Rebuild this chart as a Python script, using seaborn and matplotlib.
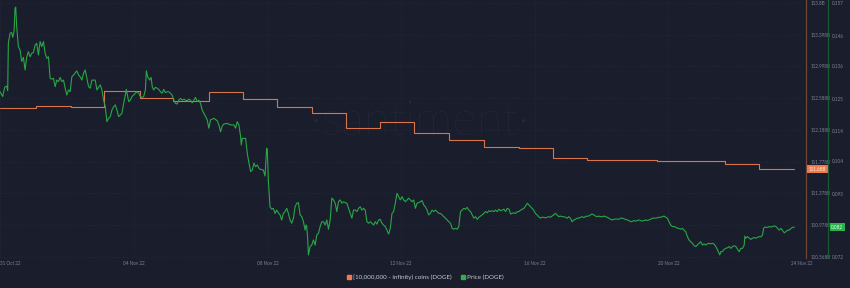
import pandas as pd
import matplotlib
matplotlib.use("Agg")
import matplotlib.pyplot as plt
from matplotlib.lines import Line2D
import seaborn as sns

# ---------------- data ----------------
start_date = "2022-10-31"

# DOGE price, days after 31 Oct 2022 00:00
price_days = [
    0.00, 0.08, 0.14, 0.20, 0.23, 0.25, 0.30, 0.35, 0.38, 0.42, 0.45, 0.47, 0.50, 0.55, 0.60,
    0.65, 0.70, 0.75, 0.80, 0.85, 0.90, 0.95, 1.00, 1.05, 1.10, 1.15, 1.20, 1.25, 1.30, 1.35,
    1.40, 1.45, 1.50, 1.55, 1.60, 1.65, 1.70, 1.75, 1.80, 1.85, 1.90, 1.95, 2.00, 2.05, 2.10,
    2.15, 2.20, 2.30, 2.35, 2.40, 2.45, 2.50, 2.55, 2.60, 2.65, 2.70, 2.75, 2.85, 2.90, 2.95,
    3.00, 3.05, 3.10, 3.15, 3.20, 3.25, 3.30, 3.35, 3.40, 3.45, 3.50, 3.55, 3.60, 3.65, 3.70,
    3.75, 3.78, 3.82, 3.85, 3.90, 3.95, 4.00, 4.05, 4.10, 4.15, 4.20, 4.25, 4.30, 4.35, 4.38,
    4.42, 4.48, 4.52, 4.56, 4.60, 4.65, 4.70, 4.75, 4.80, 4.85, 4.90, 4.95, 5.00, 5.05, 5.10,
    5.15, 5.20, 5.25, 5.30, 5.35, 5.40, 5.45, 5.50, 5.55, 5.60, 5.65, 5.70, 5.75, 5.80, 5.85,
    5.90, 5.95, 6.00, 6.05, 6.10, 6.15, 6.20, 6.25, 6.30, 6.40, 6.50, 6.55, 6.60, 6.65, 6.70,
    6.80, 6.90, 7.00, 7.05, 7.10, 7.15, 7.20, 7.22, 7.25, 7.35, 7.40, 7.45, 7.50, 7.55, 7.60,
    7.65, 7.70, 7.75,
    7.78, 7.88, 7.93, 7.98, 8.00, 8.03,
    8.08, 8.13, 8.18, 8.23, 8.28, 8.33, 8.38, 8.43, 8.48, 8.53, 8.58, 8.63, 8.68, 8.73, 8.78,
    8.83, 8.88, 8.93, 8.98, 9.03, 9.08, 9.13,
    9.16, 9.18, 9.21, 9.23,
    9.28, 9.33, 9.38, 9.43, 9.48, 9.53, 9.58, 9.63, 9.68, 9.73, 9.78, 9.83, 9.88, 9.93, 9.98,
    10.03, 10.08, 10.13, 10.18, 10.23, 10.28, 10.33, 10.38, 10.43, 10.48, 10.53, 10.58, 10.63,
    10.68, 10.73, 10.78, 10.83, 10.88, 10.93, 10.98, 11.03, 11.08, 11.13, 11.18, 11.23, 11.28,
    11.33, 11.38, 11.43, 11.48, 11.53, 11.58, 11.63, 11.68, 11.73, 11.78, 11.83, 11.88, 11.93,
    11.98, 12.03, 12.08, 12.13, 12.18, 12.23, 12.28, 12.33, 12.38, 12.43, 12.48, 12.53, 12.58,
    12.63, 12.68, 12.73, 12.78, 12.83, 12.88, 12.93, 12.98, 13.03, 13.08, 13.13, 13.18, 13.23,
    13.28, 13.33, 13.38, 13.43, 13.48, 13.53, 13.58, 13.63, 13.68, 13.73, 13.78, 13.83, 13.88,
    13.93, 13.98, 14.03, 14.08, 14.13, 14.18, 14.23, 14.28, 14.33, 14.38, 14.43, 14.48, 14.53,
    14.58, 14.63, 14.68, 14.73, 14.78, 14.83, 14.88, 14.93, 14.98, 15.03, 15.08, 15.13, 15.18,
    15.23, 15.28, 15.33, 15.38, 15.43, 15.48, 15.53, 15.58, 15.63, 15.68, 15.73, 15.78, 15.83,
    15.88,
    15.92, 15.97, 16.02, 16.07, 16.12, 16.17, 16.22, 16.27, 16.32, 16.37, 16.42, 16.47, 16.52,
    16.57, 16.62, 16.67, 16.72, 16.77, 16.82, 16.87, 16.92, 16.97, 17.02, 17.07, 17.12, 17.17,
    17.22, 17.27, 17.32, 17.37, 17.42, 17.47, 17.52, 17.57, 17.62, 17.67, 17.72, 17.77, 17.82,
    17.87, 17.92, 17.97, 18.02, 18.07, 18.12, 18.17, 18.22, 18.27, 18.32, 18.37, 18.42, 18.47,
    18.52, 18.57, 18.62, 18.67, 18.72, 18.77, 18.82, 18.87, 18.92, 18.97, 19.02, 19.07, 19.12,
    19.17, 19.22, 19.27, 19.32, 19.37, 19.42, 19.47, 19.52, 19.57, 19.62, 19.67, 19.72, 19.77,
    19.82, 19.87, 19.92, 19.97, 20.02, 20.07, 20.12, 20.17, 20.22, 20.27, 20.32, 20.37, 20.42,
    20.47, 20.52, 20.57, 20.62, 20.67, 20.72, 20.77, 20.82, 20.87, 20.92, 20.97, 21.02, 21.07,
    21.12, 21.17, 21.22, 21.27, 21.32, 21.37, 21.42, 21.47,
    21.52, 21.54, 21.57, 21.62, 21.67, 21.72, 21.77, 21.82, 21.87, 21.92, 21.97, 22.02, 22.07,
    22.12, 22.17, 22.22, 22.27, 22.29, 22.32, 22.37, 22.42, 22.47, 22.52, 22.57, 22.62, 22.67,
    22.72, 22.77, 22.82, 22.85, 22.89, 22.97, 23.02, 23.07, 23.12, 23.17, 23.22, 23.27, 23.32,
    23.37, 23.42, 23.47, 23.52, 23.57, 23.62, 23.67, 23.72, 23.77,
]

price_usd = [
    0.1273, 0.1257, 0.1288, 0.1292, 0.1277, 0.1435, 0.1469, 0.1471, 0.1455, 0.1474, 0.1552, 0.1556, 0.1491, 0.1424, 0.1413,
    0.1374, 0.1388, 0.1346, 0.1390, 0.1407, 0.1390, 0.1402, 0.1404, 0.1429, 0.1435, 0.1396, 0.1441, 0.1424, 0.1441, 0.1402,
    0.1385, 0.1390, 0.1318, 0.1315, 0.1318, 0.1290, 0.1312, 0.1307, 0.1321, 0.1307, 0.1312, 0.1285, 0.1262, 0.1279, 0.1273,
    0.1323, 0.1329, 0.1343, 0.1329, 0.1323, 0.1312, 0.1335, 0.1346, 0.1318, 0.1290, 0.1285, 0.1312, 0.1312, 0.1279, 0.1288,
    0.1296, 0.1279, 0.1245, 0.1223, 0.1173, 0.1184, 0.1190, 0.1212, 0.1223, 0.1229, 0.1212, 0.1190, 0.1195, 0.1201, 0.1234,
    0.1262, 0.1281, 0.1257, 0.1240, 0.1245, 0.1257, 0.1262, 0.1268, 0.1273, 0.1268, 0.1257, 0.1254, 0.1257, 0.1279, 0.1343,
    0.1323, 0.1312, 0.1321, 0.1288, 0.1279, 0.1288, 0.1285, 0.1281, 0.1273, 0.1268, 0.1281, 0.1270, 0.1273, 0.1273, 0.1268,
    0.1262, 0.1245, 0.1234, 0.1232, 0.1245, 0.1251, 0.1245, 0.1248, 0.1245, 0.1243, 0.1248, 0.1245, 0.1236, 0.1245, 0.1254,
    0.1240, 0.1245, 0.1234, 0.1212, 0.1201, 0.1190, 0.1179, 0.1151, 0.1179, 0.1184, 0.1176, 0.1162, 0.1139, 0.1158, 0.1165,
    0.1167, 0.1162, 0.1162, 0.1151, 0.1173, 0.1162, 0.1123, 0.1095, 0.1117, 0.1117, 0.1067, 0.1034, 0.1006, 0.1011, 0.1034,
    0.1022, 0.1028, 0.1017,
    0.1014, 0.1011, 0.0991, 0.1084, 0.1078, 0.0978,
    0.0888, 0.0880, 0.0883, 0.0866, 0.0877, 0.0868, 0.0861, 0.0844, 0.0866, 0.0872, 0.0883, 0.0866, 0.0844, 0.0833, 0.0850,
    0.0888, 0.0900, 0.0902, 0.0861, 0.0855, 0.0838, 0.0810,
    0.0827, 0.0822, 0.0777, 0.0727,
    0.0755, 0.0760, 0.0777, 0.0760, 0.0794, 0.0799, 0.0822, 0.0838, 0.0838, 0.0827, 0.0844, 0.0813, 0.0844, 0.0917, 0.0911,
    0.0900, 0.0872, 0.0905, 0.0911, 0.0900, 0.0905, 0.0902, 0.0900, 0.0883, 0.0866, 0.0850, 0.0877, 0.0877,
    0.0872, 0.0883, 0.0888, 0.0877, 0.0883, 0.0877, 0.0838, 0.0833, 0.0838, 0.0833, 0.0827, 0.0838, 0.0830,
    0.0844, 0.0846, 0.0833, 0.0827, 0.0822, 0.0810, 0.0797, 0.0816, 0.0866, 0.0872, 0.0900, 0.0933, 0.0922,
    0.0911, 0.0922, 0.0911, 0.0905, 0.0911, 0.0917, 0.0911, 0.0905, 0.0911, 0.0883, 0.0900, 0.0902, 0.0905,
    0.0909, 0.0894, 0.0888, 0.0877, 0.0861, 0.0866, 0.0877, 0.0872, 0.0877, 0.0872, 0.0866, 0.0866, 0.0861,
    0.0855, 0.0850, 0.0844, 0.0838, 0.0833, 0.0816, 0.0813, 0.0816, 0.0813, 0.0822, 0.0872, 0.0877, 0.0883,
    0.0880, 0.0886, 0.0877, 0.0872, 0.0861, 0.0850, 0.0855, 0.0846, 0.0853, 0.0857, 0.0861, 0.0866, 0.0872,
    0.0868, 0.0875, 0.0872, 0.0875, 0.0872, 0.0877, 0.0872, 0.0880, 0.0875, 0.0877, 0.0880, 0.0872, 0.0883,
    0.0880, 0.0864, 0.0866, 0.0868, 0.0866, 0.0872, 0.0872, 0.0877, 0.0880, 0.0883, 0.0891, 0.0900, 0.0894,
    0.0888,
    0.0883, 0.0877, 0.0866, 0.0861, 0.0855, 0.0850, 0.0853, 0.0853, 0.0851, 0.0853, 0.0855, 0.0853, 0.0857,
    0.0861, 0.0866, 0.0861, 0.0855, 0.0857, 0.0855, 0.0855, 0.0853, 0.0850, 0.0855, 0.0850, 0.0838, 0.0844,
    0.0846, 0.0850, 0.0850, 0.0853, 0.0855, 0.0852, 0.0855, 0.0857, 0.0857, 0.0861, 0.0864, 0.0861, 0.0857,
    0.0855, 0.0857, 0.0855, 0.0855, 0.0857, 0.0855, 0.0853, 0.0850, 0.0846, 0.0844, 0.0846, 0.0847, 0.0847,
    0.0846, 0.0850, 0.0850, 0.0848, 0.0846, 0.0844, 0.0842, 0.0838, 0.0839, 0.0842, 0.0840, 0.0842, 0.0844,
    0.0842, 0.0840, 0.0842, 0.0844, 0.0842, 0.0844, 0.0846, 0.0850, 0.0850, 0.0850, 0.0851, 0.0853, 0.0853,
    0.0855, 0.0857, 0.0853, 0.0850, 0.0838, 0.0827, 0.0822, 0.0822, 0.0820, 0.0816, 0.0816, 0.0813, 0.0816,
    0.0810, 0.0805, 0.0788, 0.0777, 0.0771, 0.0766, 0.0758, 0.0755, 0.0760, 0.0766, 0.0771, 0.0760, 0.0764,
    0.0760, 0.0764, 0.0766, 0.0764, 0.0766, 0.0763, 0.0755, 0.0744,
    0.0732, 0.0727, 0.0738, 0.0738, 0.0746, 0.0749, 0.0751, 0.0755, 0.0749, 0.0755, 0.0758, 0.0755, 0.0746,
    0.0738, 0.0749, 0.0749, 0.0760, 0.0790, 0.0783, 0.0788, 0.0783, 0.0779, 0.0783, 0.0785, 0.0783, 0.0786,
    0.0788, 0.0788, 0.0794, 0.0816, 0.0820, 0.0819, 0.0822, 0.0820, 0.0822, 0.0824, 0.0822, 0.0816, 0.0810,
    0.0816, 0.0808, 0.0801, 0.0805, 0.0810, 0.0810, 0.0816, 0.0819, 0.0820,
]

# supply held by addresses with >= 10M DOGE (billions), step series
holder_days = [0.00, 1.07, 2.12, 3.12, 4.19, 5.19, 6.24, 7.27, 8.28, 9.33, 10.36, 11.38,
               12.40, 13.44, 14.47, 15.52, 16.54, 17.57, 18.59, 19.66, 20.66, 21.69, 22.72, 23.77]
holder_billions = [112.460, 112.489, 112.477, 112.680, 112.595, 112.557, 112.668, 112.578,
                   112.477, 112.404, 112.206, 112.286, 112.142, 112.057, 111.972, 111.951,
                   111.832, 111.806, 111.802, 111.786, 111.793, 111.748, 111.684, 111.684]

date_ticks = ["2022-10-31", "2022-11-04", "2022-11-08", "2022-11-12",
              "2022-11-16", "2022-11-20", "2022-11-24"]
holder_ticks = [113.8, 113.398, 112.998, 112.588, 112.188, 111.778, 111.378, 110.978, 110.568]
price_ticks = [0.157, 0.146, 0.136, 0.125, 0.114, 0.104, 0.093, 0.083, 0.072]
series_labels = ["[10,000,000 - infinity) coins (DOGE)", "Price (DOGE)"]

assert len(price_days) == len(price_usd)
assert len(holder_days) == len(holder_billions)

# ---------------- style ----------------
BG = "#1a1d2c"
ORANGE = "#d8754b"
GREEN = "#28a745"
ORANGE_SPINE = "#6e4538"
GREEN_SPINE = "#1d5a33"
TICK = "#7e8397"
GRID = "#2a2e40"

sns.set_theme(style="dark")
plt.rcParams["font.family"] = ["Lato", "DejaVu Sans"]

t0 = pd.Timestamp(start_date)
price_df = pd.DataFrame({"time": t0 + pd.to_timedelta(price_days, unit="D"), "price": price_usd})
hold_df = pd.DataFrame({"time": t0 + pd.to_timedelta(holder_days, unit="D"), "holdings": holder_billions})

W, H = 850, 288
fig = plt.figure(figsize=(W / 100, H / 100), dpi=100)
fig.patch.set_facecolor(BG)
ax = fig.add_axes([0, 1 - 258 / H, 802 / W, 258 / H])
ax.set_facecolor(BG)
ax2 = ax.twinx()

sns.lineplot(data=hold_df, x="time", y="holdings", ax=ax, color=ORANGE, lw=0.8,
             drawstyle="steps-post", legend=False)
sns.lineplot(data=price_df, x="time", y="price", ax=ax2, color=GREEN, lw=0.8, legend=False)

tick_times = pd.to_datetime(date_ticks)
ax.set_xlim(tick_times[0], tick_times[-1])
ax.set_xticks(tick_times, labels=[t.strftime("%d %b %y") for t in tick_times])
ax.set_ylim(110.555, 113.838)
ax2.set_ylim(0.07167, 0.1580)

# the price tick hidden behind the last-price badge carries no label
price_labels = [("" if abs(v - price_usd[-1]) < 0.003 else f"{v:.3f}") for v in price_ticks]

ax.yaxis.tick_right()
ax.set_yticks(holder_ticks, labels=[f"{v:g}B" for v in holder_ticks])
ax2.set_yticks(price_ticks, labels=price_labels)
for a in (ax, ax2):
    a.set_xlabel("")
    a.set_ylabel("")
    for s in ("top", "bottom", "left"):
        a.spines[s].set_visible(False)

ax.spines["right"].set_visible(True)
ax.spines["right"].set_position(("outward", 2.9))
ax.spines["right"].set_color(ORANGE_SPINE)
ax.spines["right"].set_linewidth(0.9)
ax2.spines["right"].set_visible(True)
ax2.spines["right"].set_position(("outward", 18.7))
ax2.spines["right"].set_color(GREEN_SPINE)
ax2.spines["right"].set_linewidth(0.9)

ax.tick_params(axis="y", length=0, pad=3.4, labelsize=3.3, colors=TICK,
               labelright=True, labelleft=False)
ax2.tick_params(axis="y", length=0, pad=3.0, labelsize=3.3, colors=TICK)
ax.tick_params(axis="x", length=0, pad=2.0, labelsize=3.3, colors=TICK)
xlabels = ax.get_xticklabels()
xlabels[0].set_horizontalalignment("left")

ax.grid(True, axis="both", color=GRID, linestyle=(0, (1, 2)), linewidth=0.5)
ax2.grid(False)

# watermark
ax.text(0.524, 0.525, "\u00b7santiment\u00b7", transform=ax.transAxes, ha="center", va="center",
        fontsize=34, color="#262a3a", fontweight="light", zorder=0)

# last-value badges
ax.annotate(f"{holder_billions[-1]:.2f}B", xy=(1, holder_billions[-1]),
            xycoords=("axes fraction", "data"), xytext=(5.0, 0), textcoords="offset points",
            ha="left", va="center", fontsize=3.3, color="#fff1ea",
            bbox=dict(boxstyle="square,pad=0.35", fc="#f07b4a", ec="none"), annotation_clip=False)
ax2.annotate(f"{price_usd[-1]:.3f}", xy=(1, price_usd[-1]),
             xycoords=("axes fraction", "data"), xytext=(21.0, 0), textcoords="offset points",
             ha="left", va="center", fontsize=3.3, color="#eafff0",
             bbox=dict(boxstyle="square,pad=0.35", fc="#2bb14d", ec="none"), annotation_clip=False)

handles = [Line2D([], [], marker="s", ls="none", color="#f07b4a", markersize=3.3),
           Line2D([], [], marker="s", ls="none", color="#2bb14d", markersize=3.3)]
fig.legend(handles, series_labels, loc="center", bbox_to_anchor=(0.5, 1 - 277 / H), ncol=2,
           frameon=False, fontsize=4.5, labelcolor="#c4c8d4", handletextpad=0.2,
           columnspacing=1.4, handlelength=0.8)

fig.savefig("out.png", dpi=100, facecolor=BG)
